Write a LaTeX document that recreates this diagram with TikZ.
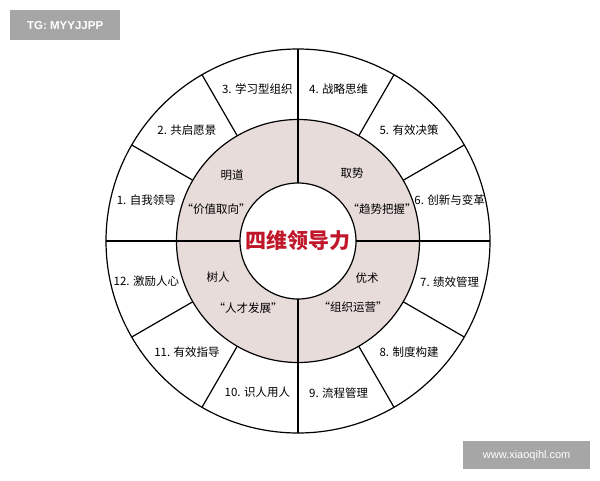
\documentclass[tikz,border=0pt]{standalone}
\usepackage{fontspec}
\usetikzlibrary{calc}
\setmainfont{Noto Sans CJK SC}
\newfontfamily\wmfont{Liberation Sans}
\definecolor{ringpink}{HTML}{E8DCDA}
\definecolor{wmgray}{HTML}{A6A6A6}
\definecolor{titlered}{HTML}{C0172B}
\begin{document}
\begin{tikzpicture}[x=1pt,y=-1pt,
  lbl/.style={font=\fontsize{11.5}{13}\selectfont,inner sep=1pt},
  wm/.style={fill=wmgray,text=white,font=\wmfont\bfseries\fontsize{11.5}{13}\selectfont,inner sep=0pt}]
\useasboundingbox[fill=white] (0,0) rectangle (600,480);
\coordinate (c) at (298,241);
\fill[ringpink] (c) circle (121.5);
\draw[line width=1.2pt] (c) circle (192);
\draw[line width=1.2pt] (c) circle (121.5);
\draw[line width=1.2pt,fill=white] (c) circle (58);
\foreach \a in {0,90,180,270}
  \draw[line width=1.2pt] ($(c)+(\a:58)$) -- ($(c)+(\a:192)$);
\foreach \a in {30,60,120,150,210,240,300,330}
  \draw[line width=1.2pt] ($(c)+(\a:121.5)$) -- ($(c)+(\a:192)$);
\foreach \t [count=\i] in {1. 自我领导,2. 共启愿景,3. 学习型组织,4. 战略思维,5. 有效决策,6. 创新与变革,7. 绩效管理,8. 制度构建,9. 流程管理,10. 识人用人,11. 有效指导,12. 激励人心}
  \node[lbl] (s\i) at ({298+157*cos(165-30*(\i-1))},{241-157*sin(165-30*(\i-1))}) {\t};
\node[font=\bfseries\fontsize{21}{24}\selectfont,text=titlered] (title) at (c) {四维领导力};
\node[lbl] (q1a) at (232,175) {明道};
\node[lbl] (q1b) at (216,209) {“价值取向”};
\node[lbl] (q2a) at (352,173) {取势};
\node[lbl] (q2b) at (382,209) {“趋势把握”};
\node[lbl] (q3a) at (218,277) {树人};
\node[lbl] (q3b) at (248,308) {“人才发展”};
\node[lbl] (q4a) at (367,278) {优术};
\node[lbl] (q4b) at (353,307) {“组织运营”};
\node[wm,minimum width=110,minimum height=30,anchor=north west] (wm1) at (10,10) {TG: MYYJJPP};
\node[wm,minimum width=127,minimum height=28,anchor=north west,font=\wmfont\fontsize{11}{13}\selectfont] (wm2) at (463,441) {www.xiaoqihl.com};
\end{tikzpicture}
\end{document}
